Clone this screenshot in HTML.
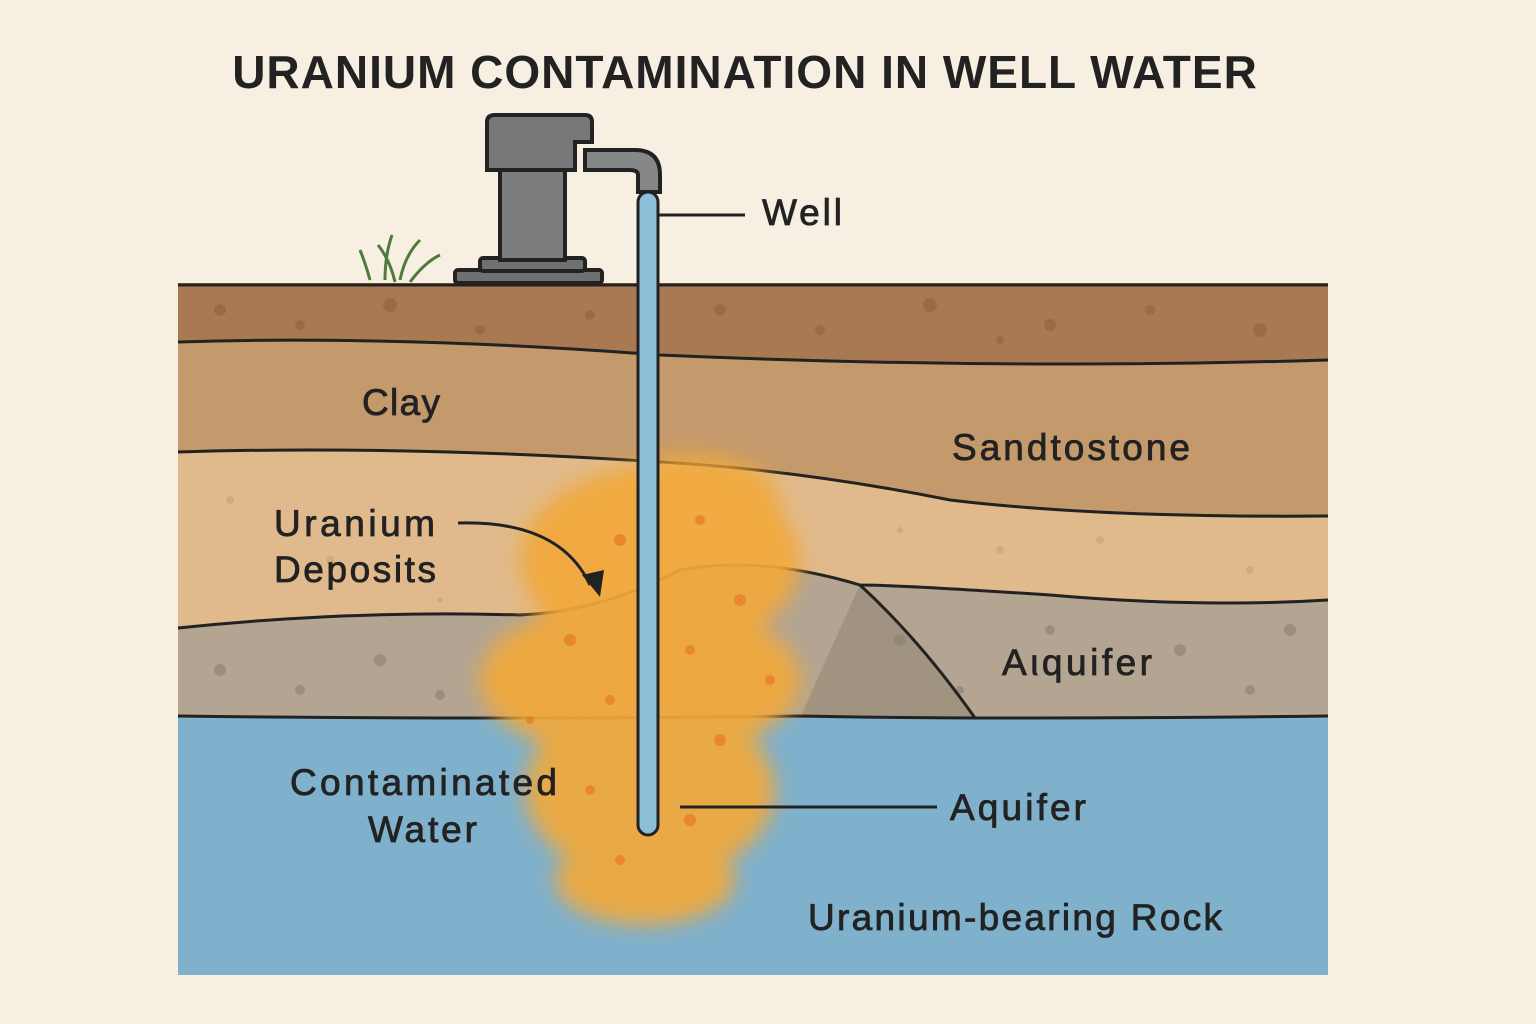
<!DOCTYPE html>
<html><head><meta charset="utf-8"><style>
body{margin:0;background:#f8efe3}
svg{display:block}
text{font-family:"Liberation Sans",sans-serif;fill:#222}
</style></head><body>
<svg width="1536" height="1024" viewBox="0 0 1536 1024" xmlns="http://www.w3.org/2000/svg">
<defs>
<filter id="bl"><feGaussianBlur stdDeviation="10"/></filter>
</defs>
<rect width="1536" height="1024" fill="#f8efe3"/>
<text x="745" y="88" text-anchor="middle" font-size="46" font-weight="bold" letter-spacing="1">URANIUM CONTAMINATION IN WELL WATER</text>
<rect x="178" y="283" width="1150" height="692" fill="#7fb0cc"/>
<path d="M178 283 H1328 V360 Q1000 370 660 355 Q400 335 178 342 Z" fill="#a97a52"/>
<path d="M178 342 Q400 335 660 355 Q1000 370 1328 360 V516 Q1100 518 950 500 Q800 470 660 462 Q400 445 178 452 Z" fill="#c49a6c"/>
<path d="M178 452 Q400 445 660 462 Q800 470 950 500 Q1100 518 1328 516 V600 Q1200 608 1050 595 Q900 585 860 585 Q760 555 680 570 Q600 612 520 615 Q350 610 178 628 Z" fill="#e0ba8c"/>
<path d="M178 628 Q350 610 520 615 Q600 612 680 570 Q760 555 860 585 Q900 585 1050 595 Q1200 608 1328 600 V718 H178 Z" fill="#b3a592"/>
<path d="M860 585 Q920 640 975 718 H800 Q830 650 860 585Z" fill="#a09480"/>
<g fill="#8d6440" opacity="0.6">
<circle cx="220" cy="310" r="6"/><circle cx="300" cy="325" r="5"/><circle cx="390" cy="305" r="7"/><circle cx="480" cy="330" r="5"/><circle cx="720" cy="310" r="6"/><circle cx="820" cy="330" r="5"/><circle cx="930" cy="305" r="7"/><circle cx="1050" cy="325" r="6"/><circle cx="1150" cy="310" r="5"/><circle cx="1260" cy="330" r="7"/><circle cx="1000" cy="340" r="4"/><circle cx="590" cy="315" r="5"/>
</g>
<g fill="#8a7f70" opacity="0.6">
<circle cx="220" cy="670" r="6"/><circle cx="300" cy="690" r="5"/><circle cx="380" cy="660" r="6"/><circle cx="440" cy="695" r="5"/><circle cx="900" cy="640" r="6"/><circle cx="1180" cy="650" r="6"/><circle cx="1250" cy="690" r="5"/><circle cx="1050" cy="630" r="5"/><circle cx="1290" cy="630" r="6"/><circle cx="960" cy="690" r="4"/>
</g>
<g fill="#c9a070" opacity="0.6">
<circle cx="230" cy="500" r="4"/><circle cx="330" cy="560" r="4"/><circle cx="440" cy="600" r="3"/><circle cx="1000" cy="550" r="4"/><circle cx="1100" cy="540" r="4"/><circle cx="1250" cy="570" r="4"/><circle cx="900" cy="530" r="3"/>
</g>
<g fill="none" stroke="#222" stroke-width="3">
<path d="M178 285 H1328"/>
<path d="M178 342 Q400 335 660 355 Q1000 370 1328 360"/>
<path d="M178 452 Q400 445 660 462 Q800 470 950 500 Q1100 518 1328 516"/>
<path d="M178 628 Q350 610 520 615 Q600 612 680 570 Q760 555 860 585 Q900 585 1050 595 Q1200 608 1328 600"/>
<path d="M860 585 Q920 640 975 718"/>
<path d="M178 716 Q500 720 800 716 Q1000 720 1328 716"/>
</g>
<g filter="url(#bl)" fill="#f2a93a" opacity="0.92">
<ellipse cx="660" cy="560" rx="140" ry="95"/>
<ellipse cx="640" cy="680" rx="160" ry="80"/>
<ellipse cx="650" cy="790" rx="125" ry="90"/>
<ellipse cx="645" cy="880" rx="90" ry="45"/>
<ellipse cx="690" cy="500" rx="90" ry="45"/>
</g>
<g fill="#e8782a" opacity="0.7">
<circle cx="620" cy="540" r="6"/><circle cx="700" cy="520" r="5"/><circle cx="740" cy="600" r="6"/><circle cx="570" cy="640" r="6"/><circle cx="690" cy="650" r="5"/><circle cx="610" cy="700" r="5"/><circle cx="720" cy="740" r="6"/><circle cx="590" cy="790" r="5"/><circle cx="690" cy="820" r="6"/><circle cx="620" cy="860" r="5"/><circle cx="770" cy="680" r="5"/><circle cx="530" cy="720" r="4"/>
</g>
<g stroke="#222" stroke-width="4" fill="#6e7072">
<rect x="455" y="270" width="147" height="13" rx="3"/>
<rect x="480" y="258" width="105" height="13" rx="3"/>
<rect x="500" y="165" width="65" height="95" fill="#7a7c7e"/>
<path d="M585 150 H635 Q660 150 660 175 V192 H638 V175 Q638 170 630 170 H585 Z" fill="#858789"/>
<path d="M495 115 H585 Q592 115 592 122 V142 H575 V170 H487 V122 Q487 115 495 115Z" fill="#777"/>
</g>
<g stroke="#4f7a3a" stroke-width="3" fill="none">
<path d="M370 280 Q365 262 360 250"/><path d="M385 280 Q385 255 392 235"/><path d="M400 280 Q405 255 420 240"/><path d="M410 282 Q425 262 440 255"/><path d="M395 282 Q390 260 378 245"/>
</g>
<rect x="638" y="192" width="20" height="643" rx="10" fill="#8dbfd8" stroke="#222" stroke-width="3"/>
<g stroke="#222" stroke-width="3" fill="none">
<path d="M658 215 H745"/>
<path d="M680 807 H937"/>
<path d="M458 523 Q560 520 590 585"/>
</g>
<path d="M582 575 L600 597 L604 570 Z" fill="#222"/>
<g font-size="37" stroke="#222" stroke-width="0.8" lengthAdjust="spacingAndGlyphs">
<text x="762" y="225" textLength="80">Well</text>
<text x="362" y="415" textLength="78">Clay</text>
<text x="952" y="460" textLength="238">Sandtostone</text>
<text x="274" y="536" textLength="161">Uranium</text>
<text x="274" y="582" textLength="162">Deposits</text>
<text x="1002" y="675" textLength="150">Aιquifer</text>
<text x="290" y="795" textLength="267">Contaminated</text>
<text x="368" y="842" textLength="109">Water</text>
<text x="950" y="820" textLength="136">Aquifer</text>
<text x="808" y="930" textLength="414">Uranium-bearing Rock</text>
</g>
</svg>
</body></html>
